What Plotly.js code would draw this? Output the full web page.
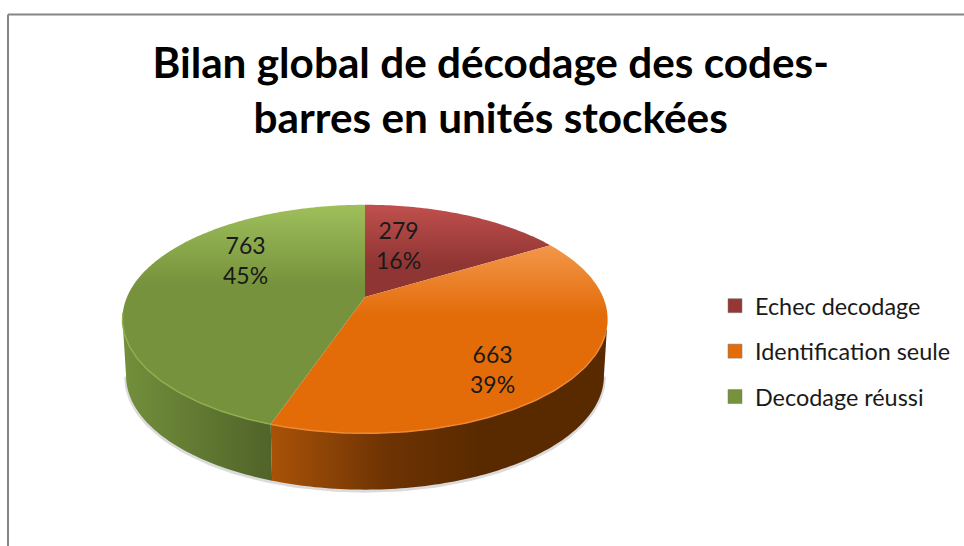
<!DOCTYPE html>
<html>
<head>
<meta charset="utf-8">
<script src="https://cdn.plot.ly/plotly-3.0.1.min.js"></script>
<style>html,body{margin:0;padding:0;background:#fff}#chart{width:964px;height:546px}</style>
</head>
<body>
<div id="chart"></div>
<script>
// Data
const categories = ["Echec decodage", "Identification seule", "Decodage réussi"];
const values = [279, 663, 763];
const percents = [16, 39, 45];
const chartTitle = "Bilan global de décodage des codes-<br>barres en unités stockées";

// Styles
const swatch = ["#953735", "#e36c09", "#76923c"];
const topScale = [
  [[0, "#c0504d"], [1, "#8f3533"]],
  [[0, "#f49a50"], [1, "#e36c09"]],
  [[0, "#9fbf5b"], [1, "#76923c"]]
];
const topStop = [[205, 265], [240, 315], [205, 285]];

// Projection of the tilted disc (pie seen in perspective), axis units = pixels
const cx = 365, cy = 297, A = 238, B = 110, k = 0.193, depth = 57;
function proj(deg, r, lower) {
  const t = deg * Math.PI / 180, u = r * Math.sin(t), v = r * Math.cos(t), d = 1 + k * v;
  const X = A * u / d, Y = B * v / d;
  return lower ? [cx + X * 0.985, cy - Y * 0.995 + depth] : [cx + X, cy - Y];
}
function arc(a, b, lower) {
  const pts = [], n = Math.max(2, Math.ceil(Math.abs(b - a)));
  for (let i = 0; i <= n; i++) pts.push(proj(a + (b - a) * i / n, 1, lower));
  return pts;
}
const total = values.reduce((s, v) => s + v, 0);
let acc = 0;
const bounds = values.map(v => { const a = acc; acc += v; return [a / total * 360, acc / total * 360]; });

const traces = [];
const xs = p => p.map(q => q[0]), ys = p => p.map(q => q[1]);

// soft shadow under the side wall
const shadow = arc(101, 259, true).map(q => [q[0], q[1] + 1]);
traces.push({x: xs(shadow), y: ys(shadow), mode: "lines", line: {color: "rgba(90,90,90,0.22)", width: 4}, hoverinfo: "skip", showlegend: false});

// side walls: orange (front right) and green (front left)
function wall(a, b, scale, x0, x1) {
  const p = arc(a, b, false).concat(arc(a, b, true).reverse());
  traces.push({x: xs(p), y: ys(p), mode: "none", fill: "toself",
    fillgradient: {type: "horizontal", colorscale: scale, start: x0, stop: x1}, hoverinfo: "skip", showlegend: false});
}
wall(101, bounds[1][1], [[0, "#a85208"], [0.55, "#6e3303"], [1, "#592a00"]], 273, 480);
wall(bounds[1][1], 259, [[0, "#728f3b"], [1, "#506329"]], 125, 273);

// top faces
values.forEach((v, i) => {
  const p = [[cx, cy]].concat(arc(bounds[i][0], bounds[i][1], false));
  p.push([cx, cy]);
  traces.push({x: xs(p), y: ys(p), mode: "none", fill: "toself",
    fillgradient: {type: "vertical", colorscale: topScale[i], start: topStop[i][0], stop: topStop[i][1]},
    hoverinfo: "skip", showlegend: false});
});

// light rim on the front edge
const rim = [[bounds[1][0] + 50, bounds[1][1], "#ee8a35"], [bounds[1][1], 262, "#8fae50"]];
rim.forEach(r => {
  const p = arc(r[0], r[1], false);
  traces.push({x: xs(p), y: ys(p), mode: "lines", line: {color: r[2], width: 1.5}, hoverinfo: "skip", showlegend: false});
});

// legend entries
categories.forEach((c, i) => {
  traces.push({x: [null], y: [null], name: c, mode: "markers", legendgroup: c,
    marker: {symbol: "square", size: 14, color: swatch[i], line: {color: "rgba(120,120,120,0.5)", width: 1}}});
});

const labelPos = [[398, 245], [492, 369], [245, 260]];
const annotations = values.map((v, i) => ({
  x: labelPos[i][0], y: labelPos[i][1], xref: "x", yref: "y", showarrow: false,
  text: v + "<br>" + percents[i] + "%", align: "center",
  font: {family: "Lato, sans-serif", size: 23, color: "#1a1a1a"}
}));

const layout = {
  width: 964, height: 546,
  margin: {l: 0, r: 0, t: 0, b: 0},
  paper_bgcolor: "#fff", plot_bgcolor: "rgba(0,0,0,0)",
  title: {text: chartTitle, x: 0.509, xanchor: "center", y: 0.857, yanchor: "top",
    font: {family: "Lato, sans-serif", size: 42.3, color: "#000", weight: 700}},
  xaxis: {range: [0, 964], visible: false, fixedrange: true},
  yaxis: {range: [546, 0], visible: false, fixedrange: true},
  legend: {x: 715 / 964, xanchor: "left", y: 1 - 284 / 546, yanchor: "top", tracegroupgap: 12,
    traceorder: "grouped", font: {family: "Lato, sans-serif", size: 23.4, color: "#1a1a1a"}, itemwidth: 30,
    bgcolor: "rgba(0,0,0,0)"},
  annotations: annotations,
  shapes: [
    {type: "line", xref: "paper", yref: "paper", x0: 8 / 964, x1: 1, y0: 1 - 14.5 / 546, y1: 1 - 14.5 / 546, line: {color: "#868686", width: 2}},
    {type: "line", xref: "paper", yref: "paper", x0: 8 / 964, x1: 8 / 964, y0: 1 - 14.5 / 546, y1: 0, line: {color: "#868686", width: 2}}
  ]
};
Plotly.newPlot("chart", traces, layout, {displayModeBar: false, staticPlot: true});
</script>
</body>
</html>
